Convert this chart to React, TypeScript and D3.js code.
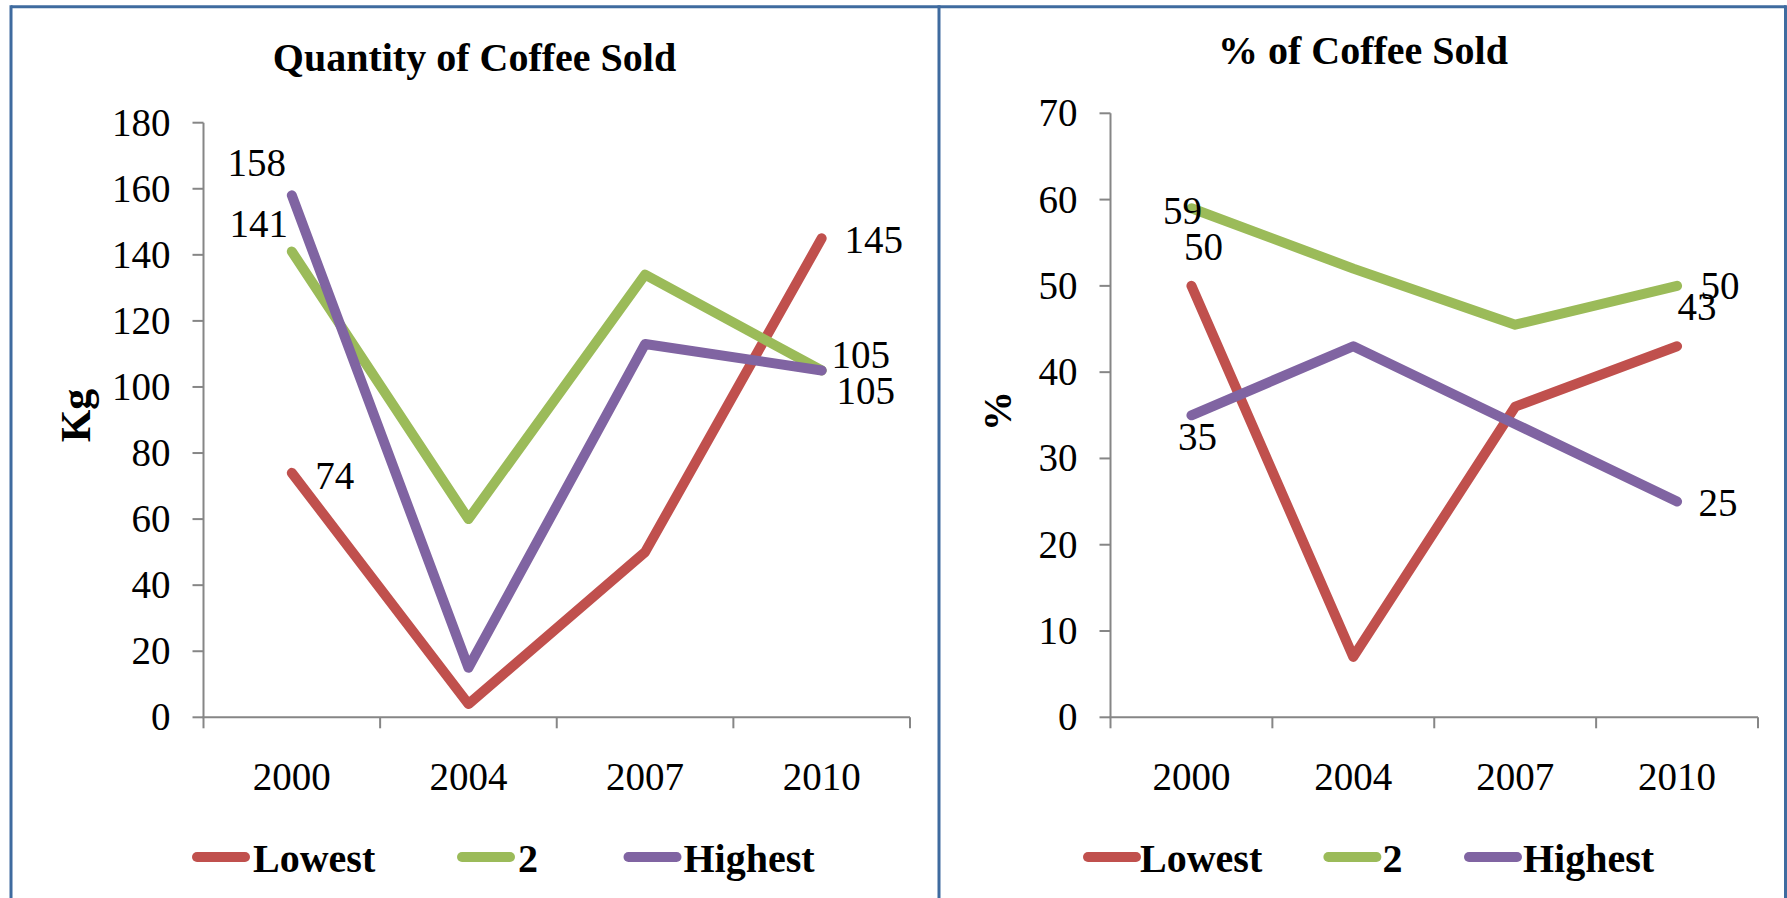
import React from "react";
import * as d3 from "d3";

// Categories and series
const years = ["2000", "2004", "2007", "2010"];
const seriesNames = ["Lowest", "2", "Highest"];
const seriesColors = ["#C0504D", "#9BBB59", "#8064A2"];

// Quantity of coffee sold (Kg)
const qtyLowest = [74, 4, 50, 145];
const qtySecond = [141, 60, 134, 105];
const qtyHighest = [158, 15, 113, 105];

// Share of coffee sold (%)
const pctLowest = [50, 7, 36, 43];
const pctSecond = [59, 52, 45.5, 50];
const pctHighest = [35, 43, 34, 25];

// Axis ticks
const qtyTicks = [0, 20, 40, 60, 80, 100, 120, 140, 160, 180];
const pctTicks = [0, 10, 20, 30, 40, 50, 60, 70];

// Which points carry a value label, and where the label sits relative to the point
const qtyLabels = [
  { s: 2, i: 0, dx: -35, dy: -32 },
  { s: 1, i: 0, dx: -33, dy: -28 },
  { s: 0, i: 0, dx: 43, dy: 3 },
  { s: 0, i: 3, dx: 52, dy: 2 },
  { s: 1, i: 3, dx: 39, dy: -15 },
  { s: 2, i: 3, dx: 44, dy: 21 },
];
const pctLabels = [
  { s: 1, i: 0, dx: -9, dy: 3 },
  { s: 0, i: 0, dx: 12, dy: -39 },
  { s: 2, i: 0, dx: 6, dy: 22 },
  { s: 1, i: 3, dx: 43, dy: 0 },
  { s: 0, i: 3, dx: 20, dy: -39 },
  { s: 2, i: 3, dx: 41, dy: 1 },
];

const FONT = "'Liberation Serif', 'Times New Roman', serif";
const AXIS = "#868686";
const FRAME = "#3F6B9F";
const NUM_SIZE = 39;

type Panel = {
  title: string;
  titleX: number;
  titleY: number;
  axisTitle: string;
  axisTitleX: number;
  axisTitleY: number;
  axisTitleSize: number;
  left: number;
  right: number;
  top: number;
  bottom: number;
  max: number;
  ticks: number[];
  series: number[][];
  labels: { s: number; i: number; dx: number; dy: number }[];
  legend: { lineX: number; textX: number }[];
};

const panels: Panel[] = [
  {
    title: "Quantity of Coffee Sold",
    titleX: 474.5,
    titleY: 71,
    axisTitle: "Kg",
    axisTitleX: 90,
    axisTitleY: 415.5,
    axisTitleSize: 42,
    left: 203.5,
    right: 910,
    top: 122.7,
    bottom: 717.3,
    max: 180,
    ticks: qtyTicks,
    series: [qtyLowest, qtySecond, qtyHighest],
    labels: qtyLabels,
    legend: [
      { lineX: 192, textX: 253 },
      { lineX: 457, textX: 518 },
      { lineX: 623.5, textX: 683.5 },
    ],
  },
  {
    title: "% of Coffee Sold",
    titleX: 1363,
    titleY: 64,
    axisTitle: "%",
    axisTitleX: 1011,
    axisTitleY: 411,
    axisTitleSize: 40,
    left: 1110.5,
    right: 1758,
    top: 113.3,
    bottom: 717.3,
    max: 70,
    ticks: pctTicks,
    series: [pctLowest, pctSecond, pctHighest],
    labels: pctLabels,
    legend: [
      { lineX: 1083, textX: 1140 },
      { lineX: 1323.4, textX: 1382.5 },
      { lineX: 1464, textX: 1523 },
    ],
  },
];

function ChartPanel({ p }: { p: Panel }) {
  const x = d3.scaleBand<string>().domain(years).range([p.left, p.right]).padding(0);
  const cx = (yr: string) => (x(yr) as number) + x.bandwidth() / 2;
  const y = d3.scaleLinear().domain([0, p.max]).range([p.bottom, p.top]);
  const line = d3
    .line<number>()
    .x((_, i) => cx(years[i]))
    .y((v) => y(v));
  const catEdges = [...years.map((yr) => x(yr) as number), p.right];
  const legendY = 857;

  return (
    <g>
      <text
        x={p.titleX}
        y={p.titleY}
        textAnchor="middle"
        fontFamily={FONT}
        fontWeight="bold"
        fontSize={40}
        fill="#000"
      >
        {p.title}
      </text>

      <text
        transform={`translate(${p.axisTitleX},${p.axisTitleY}) rotate(-90)`}
        textAnchor="middle"
        fontFamily={FONT}
        fontWeight="bold"
        fontSize={p.axisTitleSize}
        fill="#000"
      >
        {p.axisTitle}
      </text>

      {/* value axis */}
      <line x1={p.left} x2={p.left} y1={p.top} y2={p.bottom} stroke={AXIS} strokeWidth={2} />
      {p.ticks.map((t) => (
        <g key={t}>
          <line x1={p.left - 11} x2={p.left} y1={y(t)} y2={y(t)} stroke={AXIS} strokeWidth={2} />
          <text
            x={p.left - 33}
            y={y(t) + 13}
            textAnchor="end"
            fontFamily={FONT}
            fontSize={NUM_SIZE}
            fill="#000"
          >
            {t}
          </text>
        </g>
      ))}

      {/* category axis */}
      <line x1={p.left - 1} x2={p.right} y1={p.bottom} y2={p.bottom} stroke={AXIS} strokeWidth={2} />
      {catEdges.map((e, i) => (
        <line key={i} x1={e} x2={e} y1={p.bottom} y2={p.bottom + 11} stroke={AXIS} strokeWidth={2} />
      ))}
      {years.map((yr) => (
        <text
          key={yr}
          x={cx(yr)}
          y={790}
          textAnchor="middle"
          fontFamily={FONT}
          fontSize={NUM_SIZE}
          fill="#000"
        >
          {yr}
        </text>
      ))}

      {/* series lines */}
      {p.series.map((vals, s) => (
        <path
          key={s}
          d={line(vals) as string}
          fill="none"
          stroke={seriesColors[s]}
          strokeWidth={10}
          strokeLinecap="round"
          strokeLinejoin="round"
        />
      ))}

      {/* value labels */}
      {p.labels.map((l, k) => {
        const v = p.series[l.s][l.i];
        return (
          <text
            key={k}
            x={cx(years[l.i]) + l.dx}
            y={y(v) + l.dy + 13}
            textAnchor="middle"
            fontFamily={FONT}
            fontSize={NUM_SIZE}
            fill="#000"
          >
            {v}
          </text>
        );
      })}

      {/* legend */}
      {p.legend.map((lg, s) => (
        <g key={s}>
          <line
            x1={lg.lineX + 5}
            x2={lg.lineX + 53}
            y1={legendY}
            y2={legendY}
            stroke={seriesColors[s]}
            strokeWidth={10}
            strokeLinecap="round"
          />
          <text
            x={lg.textX}
            y={legendY + 14.5}
            fontFamily={FONT}
            fontWeight="bold"
            fontSize={40}
            fill="#000"
          >
            {seriesNames[s]}
          </text>
        </g>
      ))}
    </g>
  );
}

export default function App() {
  const W = 1787;
  const H = 898;
  return (
    <svg
      width={W}
      height={H}
      viewBox={`0 0 ${W} ${H}`}
      style={{ position: "absolute", left: 0, top: 0, background: "#fff" }}
    >
      <rect x={0} y={0} width={W} height={H} fill="#fff" />
      {panels.map((p, i) => (
        <ChartPanel key={i} p={p} />
      ))}
      {/* chart frames */}
      <line x1={11} x2={1786} y1={6.7} y2={6.7} stroke={FRAME} strokeWidth={3} />
      <line x1={11} x2={11} y1={5.2} y2={H} stroke={FRAME} strokeWidth={3} />
      <line x1={939} x2={939} y1={5.2} y2={H} stroke={FRAME} strokeWidth={3} />
      <line x1={1785.5} x2={1785.5} y1={5.2} y2={H} stroke={FRAME} strokeWidth={3} />
    </svg>
  );
}
